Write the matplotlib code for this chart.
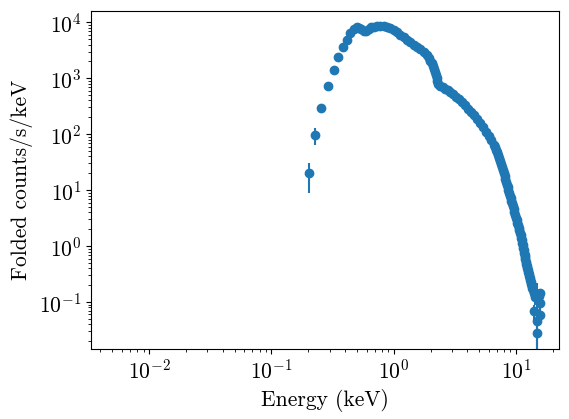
import matplotlib
matplotlib.use("Agg")
import matplotlib.pyplot as plt

# spectrum points (keV, counts/s/keV)
energy = [0.201, 0.229, 0.256, 0.289, 0.326, 0.348, 0.384, 0.414,
          0.443, 0.471, 0.502, 0.517, 0.544, 0.568, 0.593, 0.625, 0.657, 0.686,
          0.732, 0.778, 0.829, 0.883, 0.940, 1.000, 1.066, 1.134, 1.207, 1.287,
          1.369, 1.457, 1.554, 1.653, 1.759, 1.876, 1.940, 1.996, 2.061, 2.112,
          2.151, 2.193, 2.222, 2.247, 2.277, 2.320, 2.409, 2.525, 2.647, 2.775,
          2.909, 3.077, 3.256, 3.445, 3.645, 3.857, 4.081, 4.318, 4.569, 4.835,
          5.116, 5.413, 5.728, 6.004, 6.294, 6.597, 6.851, 7.112, 7.385, 7.667,
          7.932, 8.190, 8.425, 8.667, 8.916, 9.171, 9.434, 9.703, 9.98, 10.27,
          10.52, 10.76, 11.01, 11.22, 11.43, 11.65, 11.82, 12.05, 12.28, 12.51,
          12.75, 12.99, 13.24, 13.49, 13.75, 14.01, 14.41,
          15.33, 15.83, 15.83, 13.96, 15.83, 14.88, 14.88]

flux = [20.0, 96, 291, 720, 1425, 2430, 3620, 4830,
        6362, 7594, 8245, 8010, 7437, 6992, 6992, 7594, 8076, 8346,
        8589, 8589, 8589, 8245, 7751, 7287, 6574, 5933, 5352, 4830,
        4358, 3932, 3623, 3337, 2949, 2607, 2304, 2037, 1876, 1658,
        1466, 1296, 1145, 1012, 895, 791, 729, 685, 644, 605,
        569, 514, 464, 418, 377, 327, 283, 250, 221, 188,
        159, 132, 110, 93.2, 77.5, 64.4, 52.4, 42.7, 33.4, 26.1,
        20.4, 15.9, 12.4, 10.1, 7.91, 6.44, 5.24, 4.10, 3.20, 2.61,
        2.12, 1.73, 1.41, 1.15, 0.932, 0.759, 0.644, 0.524, 0.445, 0.377,
        0.320, 0.272, 0.230, 0.195, 0.166, 0.147, 0.124,
        0.130, 0.145, 0.0960, 0.0680, 0.0593, 0.0450, 0.0280]

flux_err = [11, 32, 22, 35, 50, 70, 80, 90,
            90, 100, 100, 100, 95, 90, 90, 95, 100, 100,
            100, 100, 100, 100, 95, 90, 85, 80, 75, 70,
            65, 60, 55, 50, 45, 42, 38, 35, 33, 30,
            28, 26, 24, 22, 20, 18, 17, 16, 15, 14,
            13, 12, 11, 10, 9, 8, 7, 6.5, 6, 5.5,
            5, 4.5, 4, 3.5, 3, 2.8, 2.5, 2.2, 2, 1.7,
            1.5, 1.2, 1.0, 0.9, 0.75, 0.65, 0.55, 0.45, 0.38, 0.32,
            0.27, 0.23, 0.2, 0.17, 0.14, 0.12, 0.1, 0.09, 0.08, 0.07,
            0.06, 0.055, 0.05, 0.045, 0.04, 0.04, 0.035,
            0.02, 0.02, 0.02, 0.02, 0.02, 0.17, 0.04]

# extra bins in the steep high-energy fall-off
tail_energy = [6.722, 6.981, 7.248, 7.525, 7.800, 8.068, 8.316, 8.552, 8.800, 9.052,
               9.309, 9.576, 9.85, 10.13, 10.40, 10.64, 10.88, 11.11, 11.32, 11.54,
               11.74, 11.94, 12.16, 12.40, 12.63, 12.87, 13.11, 13.36, 13.62, 14.20]
tail_flux = [58.1, 47.3, 37.7, 29.5, 23.0, 18.0, 14.1, 11.2, 8.95, 7.14,
             5.81, 4.64, 3.62, 2.89, 2.35, 1.91, 1.56, 1.27, 1.03, 0.841,
             0.699, 0.581, 0.483, 0.410, 0.348, 0.295, 0.250, 0.212, 0.180, 0.135]
tail_err = [2.6, 2.3, 2.0, 1.8, 1.5, 1.3, 1.1, 0.95, 0.8, 0.7,
            0.6, 0.5, 0.42, 0.35, 0.3, 0.25, 0.21, 0.18, 0.15, 0.13,
            0.11, 0.095, 0.085, 0.075, 0.065, 0.058, 0.052, 0.047, 0.043, 0.035]

plt.rcParams['font.family'] = 'serif'
plt.rcParams['font.serif'] = ['cmr10']
plt.rcParams['mathtext.fontset'] = 'cm'
plt.rcParams['axes.formatter.use_mathtext'] = True
plt.rcParams['axes.unicode_minus'] = False
plt.rcParams['font.size'] = 15.5

fig = plt.figure(figsize=(5.69, 4.19), dpi=100)
ax = fig.add_axes([0.1603, 0.1663, 0.8227, 0.8082])

ax.errorbar(energy, flux, yerr=flux_err, fmt='o', color='C0', ms=6)
ax.errorbar(tail_energy, tail_flux, yerr=tail_err, fmt='o', color='C0', ms=6)

ax.set_xscale('log')
ax.set_yscale('log')
ax.set_xlim(0.00336, 22.6)
ax.set_ylim(0.0143, 1.61e4)

ax.set_xlabel('Energy (keV)')
ax.set_ylabel('Folded counts/s/keV')

fig.savefig('out.png', dpi=100)
